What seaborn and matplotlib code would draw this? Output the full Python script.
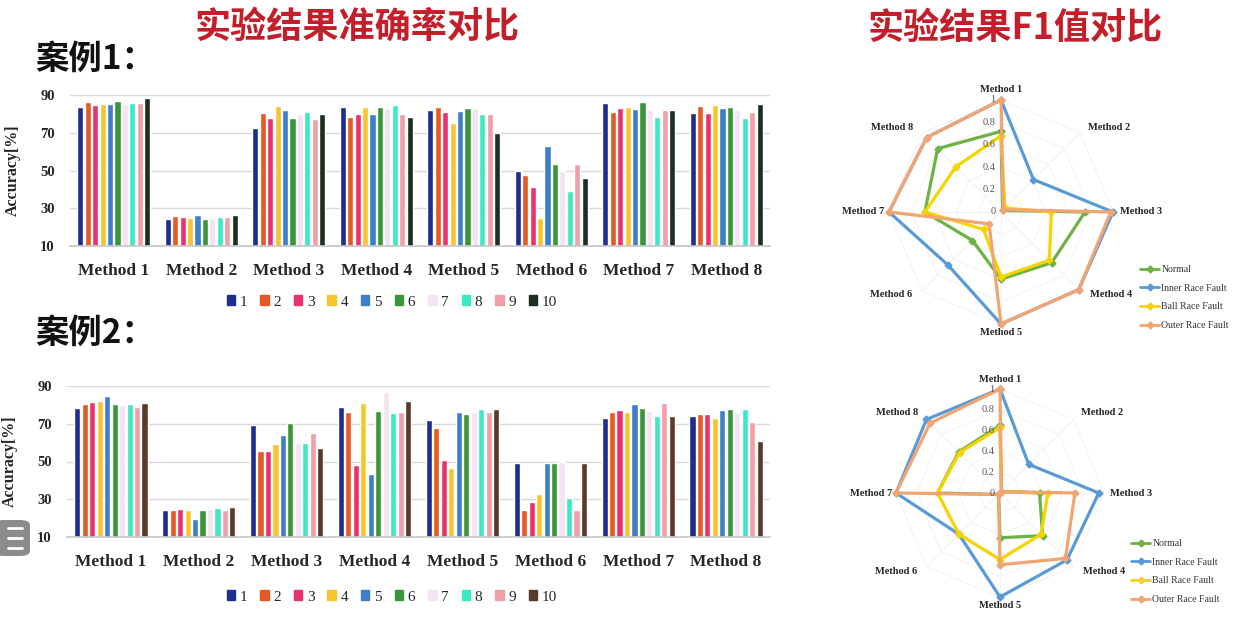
import numpy as np
import pandas as pd
import matplotlib
matplotlib.use('Agg')
import matplotlib.pyplot as plt
import seaborn as sns
from matplotlib.patches import Patch, FancyBboxPatch
from matplotlib.lines import Line2D

methods = ['Method 1', 'Method 2', 'Method 3', 'Method 4',
           'Method 5', 'Method 6', 'Method 7', 'Method 8']
runs = [str(i) for i in range(1, 11)]

# accuracy [%], one row per method, columns = runs 1..10
case1_acc = [
    [83.8, 86.5, 84.7, 85.0, 85.0, 87.0, 85.0, 85.6, 85.6, 88.6],
    [24.5, 25.8, 25.4, 25.0, 26.5, 24.5, 25.0, 25.4, 25.4, 26.3],
    [72.7, 80.6, 77.6, 84.3, 82.0, 78.0, 80.0, 81.2, 77.1, 79.7],
    [83.8, 78.1, 79.9, 83.8, 79.7, 83.8, 83.0, 84.7, 79.7, 78.1],
    [82.0, 83.8, 81.2, 75.0, 81.7, 82.9, 83.0, 80.0, 80.0, 70.0],
    [49.8, 47.5, 41.0, 25.0, 63.0, 53.4, 50.0, 39.2, 53.4, 45.8],
    [86.0, 81.2, 83.3, 83.8, 82.6, 86.5, 82.0, 78.5, 82.0, 82.0],
    [80.6, 84.2, 80.6, 84.7, 82.9, 83.8, 82.0, 78.0, 81.2, 85.2],
]
case2_acc = [
    [78.5, 80.3, 81.7, 82.0, 84.7, 80.3, 80.0, 80.3, 79.0, 81.2],
    [24.5, 24.2, 25.0, 24.2, 19.4, 24.5, 25.0, 25.3, 24.5, 25.9],
    [69.6, 55.7, 55.7, 59.2, 64.3, 70.5, 60.0, 59.9, 65.2, 57.4],
    [79.0, 76.4, 48.4, 81.2, 43.3, 76.9, 87.0, 75.8, 76.4, 82.2],
    [72.0, 67.9, 50.7, 46.6, 76.4, 75.0, 76.0, 77.8, 76.4, 77.6],
    [49.0, 24.5, 28.6, 32.7, 49.0, 49.0, 50.0, 30.7, 24.5, 49.0],
    [72.8, 76.4, 77.3, 76.4, 80.3, 78.5, 77.0, 74.0, 80.8, 74.0],
    [74.0, 75.0, 75.0, 72.8, 77.3, 77.6, 76.0, 77.6, 71.0, 60.8],
]

# F1 values for the radar charts, order Method 1..8
fault_names = ['Normal', 'Inner Race Fault', 'Ball Race Fault', 'Outer Race Fault']
f1_case1 = {
    'Normal':           [0.72, 0.02, 0.75, 0.64, 0.60, 0.36, 0.68, 0.80],
    'Inner Race Fault': [1.00, 0.41, 1.00, 0.98, 1.00, 0.67, 1.00, 0.94],
    'Ball Race Fault':  [0.68, 0.05, 0.45, 0.61, 0.58, 0.22, 0.68, 0.57],
    'Outer Race Fault': [1.00, 0.03, 0.98, 0.98, 1.00, 0.15, 1.00, 0.94],
}
f1_case2 = {
    'Normal':           [0.65, 0.02, 0.38, 0.58, 0.43, 0.02, 0.60, 0.56],
    'Inner Race Fault': [1.00, 0.39, 0.95, 0.91, 1.00, 0.56, 1.00, 1.00],
    'Ball Race Fault':  [0.63, 0.02, 0.46, 0.56, 0.64, 0.56, 0.60, 0.55],
    'Outer Race Fault': [1.00, 0.02, 0.72, 0.89, 0.69, 0.02, 1.00, 0.95],
}
radial_ticks = [0, 0.2, 0.4, 0.6, 0.8, 1]

bar_colors1 = ['#1f2e8c', '#e35a24', '#e8336e', '#f5c52f', '#3f7fc9',
               '#3a9639', '#f2e4f0', '#3ee8c2', '#f1a0a8', '#1c2e1f']
bar_colors2 = bar_colors1[:9] + ['#5a3a28']
fault_colors = ['#6cb244', '#5b9bd5', '#f5d400', '#f2a472']

sns.set_theme(style='white')
plt.rcParams['font.family'] = ['Liberation Serif', 'Noto Sans CJK SC', 'DejaVu Sans']

W, H = 1244, 617
fig = plt.figure(figsize=(W / 100, H / 100), dpi=100)
fig.patch.set_facecolor('white')


def px_axes(left, top, width, height, **kw):
    return fig.add_axes([left / W, 1 - (top + height) / H, width / W, height / H], **kw)


def bar_panel(ax, acc, colors, legend_y):
    df = pd.DataFrame(acc, index=methods, columns=runs)
    df = df.reset_index().melt(id_vars='index', var_name='run', value_name='acc')
    df = df.rename(columns={'index': 'method'})
    sns.barplot(data=df, x='method', y='acc', hue='run', order=methods,
                hue_order=runs, palette=colors, width=0.85, gap=0.18,
                saturation=1, errorbar=None, legend=False, ax=ax)
    ax.set_ylim(10, 90)
    ax.set_yticks([10, 30, 50, 70, 90])
    ax.yaxis.grid(True, color='#d9d9d9', lw=1)
    ax.set_axisbelow(True)
    for s in ['top', 'right', 'left']:
        ax.spines[s].set_visible(False)
    ax.spines['bottom'].set_color('#c8c8c8')
    ax.tick_params(axis='both', length=0)
    ax.tick_params(axis='x', pad=12, labelsize=12.5)
    ax.tick_params(axis='y', pad=11, labelsize=10.5)
    for t in ax.get_xticklabels() + ax.get_yticklabels():
        t.set_fontweight('bold')
        t.set_color('#262626')
    ax.set_xlabel('')
    ax.set_ylabel('Accuracy[%]', fontsize=11.5, fontweight='bold', color='#262626')
    ax.yaxis.set_label_coords(-0.07, 0.5)
    handles = [Patch(facecolor=c, edgecolor=c) for c in colors]
    fig.legend(handles, runs, loc='center', bbox_to_anchor=(392 / W, 1 - legend_y / H),
               ncol=10, frameon=False, fontsize=11, handlelength=0.55,
               handleheight=0.55, handletextpad=0.3, columnspacing=0.85)


def radar_panel(ax, values, diag_r, legend_xy):
    angles = np.linspace(0, 2 * np.pi, len(methods), endpoint=False)
    closed = np.append(angles, angles[0])
    ax.set_theta_zero_location('N')
    ax.set_theta_direction(-1)
    ax.set_ylim(0, 1)
    ax.grid(False)
    ax.spines['polar'].set_visible(False)
    ax.set_xticks([])
    ax.set_yticks([])
    ax.patch.set_alpha(0)
    for lev in radial_ticks[1:]:
        ax.plot(closed, [lev] * len(closed), color='#f2f2f2', lw=0.7, zorder=1)
    for a in angles:
        ax.plot([a, a], [0, 1], color='#f2f2f2', lw=0.7, zorder=1)
    for name, col in zip(fault_names, fault_colors):
        v = np.append(values[name], values[name][0])
        ax.plot(closed, v, color=col, lw=2.3, marker='D', ms=3.5,
                clip_on=False, zorder=3, label=name)
    for lev in radial_ticks:
        ax.annotate(f'{lev:g}', xy=(0, lev), xytext=(-4, 0), textcoords='offset points',
                    ha='right', va='center', fontsize=7.5, color='#555555', zorder=4)
    # diagonal labels sit a little closer to the horizontal than the spokes
    diag_shift = {1: 7, 3: -8, 5: 8, 7: -7}
    for i, (a, m) in enumerate(zip(angles, methods)):
        kw = dict(fontsize=7.5, fontweight='bold', color='#262626')
        if i == 0:
            ax.text(a, 1.05, m, ha='center', va='bottom', **kw)
        elif i == 2:
            ax.text(a, 1.06, m, ha='left', va='center', **kw)
        elif i == 4:
            ax.text(a, 1.04, m, ha='center', va='top', **kw)
        elif i == 6:
            ax.text(a, 1.04, m, ha='right', va='center', **kw)
        else:
            ax.text(a + np.deg2rad(diag_shift[i]), diag_r, m,
                    ha='center', va='center', **kw)
    handles = [Line2D([0], [0], color=c, lw=2, marker='D', ms=3.5) for c in fault_colors]
    fig.legend(handles, fault_names, loc='upper left',
               bbox_to_anchor=(legend_xy[0] / W, 1 - legend_xy[1] / H),
               frameon=False, fontsize=7, handlelength=2.0, handletextpad=0.2,
               labelspacing=1.0, borderaxespad=0, borderpad=0, labelcolor='#333333')


ax1 = px_axes(70, 95, 700, 151)
bar_panel(ax1, case1_acc, bar_colors1, 302)
ax2 = px_axes(67, 386, 703, 151)
bar_panel(ax2, case2_acc, bar_colors2, 597)

r1 = px_axes(889, 100, 224, 224, projection='polar')
radar_panel(r1, f1_case1, 1.23, (1140, 265))
r2 = px_axes(896, 389, 208, 208, projection='polar')
radar_panel(r2, f1_case2, 1.25, (1131, 539))

cjk = ['Noto Sans CJK SC', 'DejaVu Sans']
fig.text(357 / W, 1 - 27 / H, '实验结果准确率对比', family=cjk, fontweight='bold',
         fontsize=26, color='#c41e2a', ha='center', va='center')
fig.text(1015 / W, 1 - 28 / H, '实验结果F1值对比', family=cjk, fontweight='bold',
         fontsize=26, color='#c41e2a', ha='center', va='center')
fig.text(35 / W, 1 - 59 / H, '案例1：', family=cjk, fontweight='bold',
         fontsize=24, color='#111111', ha='left', va='center')
fig.text(35 / W, 1 - 333 / H, '案例2：', family=cjk, fontweight='bold',
         fontsize=24, color='#111111', ha='left', va='center')

# small grey overlay button on the left edge
btn = FancyBboxPatch((-6 / W, 1 - 556 / H), 36 / W, 36 / H, transform=fig.transFigure,
                     boxstyle='round,pad=0,rounding_size=0.008', facecolor='#8c8c8c',
                     edgecolor='none', zorder=10)
fig.patches.append(btn)
for yy in [528, 538, 548]:
    fig.lines.append(Line2D([8 / W, 22 / W], [1 - yy / H, 1 - yy / H],
                            transform=fig.transFigure, color='white', lw=2, zorder=11))

fig.savefig('out.png', dpi=100, facecolor='white')
